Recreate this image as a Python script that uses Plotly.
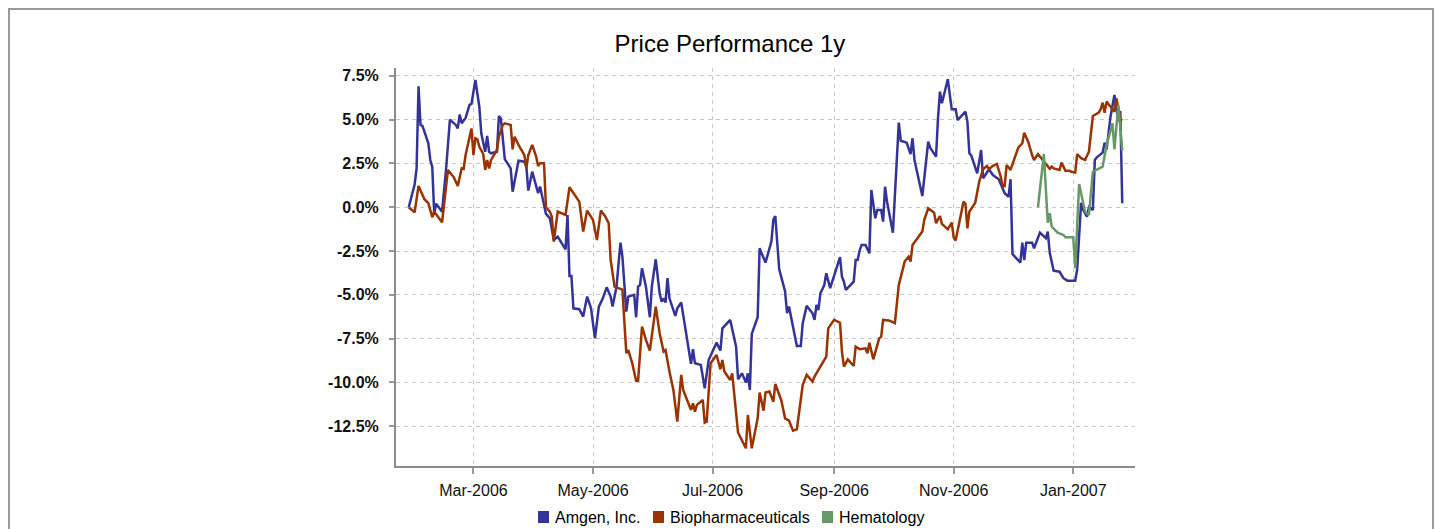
import plotly.graph_objects as go

# ---------------- data (percent change) ----------------
AMGEN_DATES = [
    "2006-01-27","2006-01-30","2006-01-31","2006-02-01","2006-02-02","2006-02-03","2006-02-06","2006-02-07",
    "2006-02-08","2006-02-09","2006-02-10","2006-02-11","2006-02-13","2006-02-15","2006-02-17","2006-02-20",
    "2006-02-21","2006-02-22","2006-02-23","2006-02-25","2006-02-27","2006-02-28","2006-03-02","2006-03-04",
    "2006-03-05","2006-03-07","2006-03-08","2006-03-09","2006-03-10","2006-03-13","2006-03-14","2006-03-15",
    "2006-03-17","2006-03-20","2006-03-21","2006-03-24","2006-03-27","2006-03-28","2006-03-29","2006-03-31",
    "2006-04-03","2006-04-04","2006-04-07","2006-04-09","2006-04-11","2006-04-13","2006-04-15","2006-04-17",
    "2006-04-18","2006-04-19","2006-04-20","2006-04-21","2006-04-24","2006-04-26","2006-04-28","2006-04-30",
    "2006-05-02","2006-05-04","2006-05-06","2006-05-08","2006-05-10","2006-05-11","2006-05-13","2006-05-15",
    "2006-05-16","2006-05-18","2006-05-19","2006-05-22","2006-05-23","2006-05-24","2006-05-25","2006-05-26",
    "2006-05-28","2006-05-30","2006-05-31","2006-06-02","2006-06-04","2006-06-05","2006-06-06","2006-06-07",
    "2006-06-08","2006-06-09","2006-06-12","2006-06-13","2006-06-15","2006-06-17","2006-06-19","2006-06-20",
    "2006-06-21","2006-06-22","2006-06-25","2006-06-27","2006-06-29","2006-07-03","2006-07-05","2006-07-06",
    "2006-07-10","2006-07-13","2006-07-14","2006-07-16","2006-07-18","2006-07-19","2006-07-20","2006-07-21",
    "2006-07-24","2006-07-25","2006-07-28","2006-07-31","2006-08-01","2006-08-02","2006-08-04","2006-08-07",
    "2006-08-08","2006-08-09","2006-08-11","2006-08-13","2006-08-15","2006-08-16","2006-08-18","2006-08-21",
    "2006-08-22","2006-08-23","2006-08-24","2006-08-25","2006-08-27","2006-08-28","2006-08-30","2006-09-01",
    "2006-09-04","2006-09-05","2006-09-06","2006-09-07","2006-09-11","2006-09-12","2006-09-13","2006-09-14",
    "2006-09-15","2006-09-17","2006-09-19","2006-09-20","2006-09-22","2006-09-23","2006-09-25","2006-09-26",
    "2006-09-27","2006-09-28","2006-10-01","2006-10-04","2006-10-05","2006-10-08","2006-10-10","2006-10-11",
    "2006-10-12","2006-10-16","2006-10-19","2006-10-20","2006-10-23","2006-10-24","2006-10-25","2006-10-26",
    "2006-10-29","2006-10-31","2006-11-02","2006-11-03","2006-11-07","2006-11-08","2006-11-09","2006-11-10",
    "2006-11-13","2006-11-15","2006-11-16","2006-11-19","2006-11-21","2006-11-24","2006-11-27","2006-11-29",
    "2006-11-30","2006-12-01","2006-12-05","2006-12-06","2006-12-07","2006-12-08","2006-12-11","2006-12-12",
    "2006-12-15","2006-12-18","2006-12-19","2006-12-20","2006-12-22","2006-12-25","2006-12-27","2006-12-29",
    "2007-01-02","2007-01-03","2007-01-05","2007-01-06","2007-01-08","2007-01-09","2007-01-11","2007-01-12",
    "2007-01-13","2007-01-16","2007-01-17","2007-01-18","2007-01-20","2007-01-22","2007-01-24","2007-01-25",
    "2007-01-26",
]
AMGEN_VALUES = [
    0.0, 1.3, 2.2, 6.9, 4.7, 4.65, 3.65, 2.7,
    2.3, -0.35, 0.2, 0.03, -0.25, 2.1, 5.0, 4.7,
    4.5, 5.3, 4.8, 5.1, 5.85, 5.9, 7.27, 5.74,
    4.22, 3.17, 4.07, 3.17, 3.08, 3.17, 5.2, 5.08,
    2.75, 2.22, 0.89, 2.66, 2.6, 2.32, 0.95, 2.03,
    0.8, 1.18, -0.38, -0.63, -1.87, -1.68, -2.05, -2.4,
    -0.44, -3.92, -3.92, -5.77, -5.82, -6.24, -5.1, -5.77,
    -7.48, -5.67, -5.2, -4.57, -5.1, -5.67, -4.53, -2.02,
    -2.82, -5.96, -5.1, -5.0, -6.28, -4.53, -4.43, -3.48,
    -4.53, -6.28, -4.53, -2.97, -4.91, -5.39, -5.2, -5.44,
    -4.05, -5.2, -6.2, -5.77, -5.44, -6.81, -7.99, -8.94,
    -8.1, -8.9, -9.0, -10.33, -8.72, -7.73, -8.18, -6.91,
    -6.43, -7.96, -9.82, -9.48, -10.01, -9.48, -10.43, -7.23,
    -6.28, -2.34, -3.16, -1.96, -0.72, -0.5, -3.54, -4.81,
    -6.05, -5.67, -6.81, -7.92, -7.92, -6.62, -5.63, -6.05,
    -6.43, -5.58, -5.86, -4.91, -4.44, -3.77, -4.62, -3.96,
    -2.85, -3.96, -4.25, -4.72, -4.25, -3.01, -3.01, -2.48,
    -2.15, -2.15, -2.63, 0.99, -0.63, -0.15, -0.15, -0.82,
    1.18, 0.32, -1.45, 4.83, 3.8, 3.69, 3.04, 3.94,
    2.7, 0.64, 3.74, 3.4, 2.89, 5.08, 6.6, 5.94,
    7.31, 5.59, 5.59, 4.98, 5.46, 4.89, 3.08, 2.95,
    1.94, 3.27, 1.66, 2.17, 1.84, 1.6, 0.8, 0.6,
    1.6, -2.67, -3.16, -2.02, -3.01, -2.02, -2.02, -2.34,
    -1.45, -1.77, -1.39, -2.59, -3.62, -3.68, -4.05, -4.19,
    -4.19, -3.54, 0.26, -0.15, -0.54, 0.0, -0.15, 2.7,
    2.85, 3.12, 3.69, 3.31, 5.17, 6.41, 4.9, 5.5,
    0.23,
]

BIOPHARMA_DATES = [
    "2006-01-27","2006-01-30","2006-02-01","2006-02-04","2006-02-06","2006-02-08","2006-02-09","2006-02-11",
    "2006-02-13","2006-02-16","2006-02-19","2006-02-21","2006-02-23","2006-02-24","2006-02-25","2006-02-28",
    "2006-03-01","2006-03-02","2006-03-03","2006-03-04","2006-03-06","2006-03-07","2006-03-08","2006-03-09",
    "2006-03-10","2006-03-13","2006-03-14","2006-03-16","2006-03-17","2006-03-20","2006-03-21","2006-03-22",
    "2006-03-24","2006-03-27","2006-03-28","2006-03-29","2006-03-31","2006-04-02","2006-04-03","2006-04-04",
    "2006-04-06","2006-04-07","2006-04-09","2006-04-10","2006-04-11","2006-04-13","2006-04-15","2006-04-17",
    "2006-04-19","2006-04-21","2006-04-24","2006-04-26","2006-04-28","2006-05-01","2006-05-03","2006-05-05",
    "2006-05-07","2006-05-09","2006-05-10","2006-05-12","2006-05-15","2006-05-16","2006-05-18","2006-05-19",
    "2006-05-21","2006-05-23","2006-05-24","2006-05-26","2006-05-28","2006-05-30","2006-06-02","2006-06-04",
    "2006-06-06","2006-06-07","2006-06-09","2006-06-11","2006-06-13","2006-06-15","2006-06-16","2006-06-18",
    "2006-06-20","2006-06-21","2006-06-22","2006-06-23","2006-06-26","2006-06-27","2006-06-28","2006-06-30",
    "2006-07-03","2006-07-05","2006-07-06","2006-07-07","2006-07-10","2006-07-11","2006-07-14","2006-07-18",
    "2006-07-19","2006-07-21","2006-07-24","2006-07-25","2006-07-27","2006-07-28","2006-07-30","2006-08-01",
    "2006-08-02","2006-08-05","2006-08-07","2006-08-09","2006-08-11","2006-08-13","2006-08-16","2006-08-18",
    "2006-08-21","2006-08-22","2006-08-24","2006-08-27","2006-08-28","2006-08-29","2006-09-01","2006-09-04",
    "2006-09-05","2006-09-06","2006-09-08","2006-09-11","2006-09-12","2006-09-14","2006-09-17","2006-09-18",
    "2006-09-19","2006-09-21","2006-09-24","2006-09-25","2006-09-26","2006-09-29","2006-10-02","2006-10-04",
    "2006-10-07","2006-10-09","2006-10-10","2006-10-11","2006-10-13","2006-10-16","2006-10-17","2006-10-19",
    "2006-10-22","2006-10-23","2006-10-25","2006-10-26","2006-10-29","2006-10-31","2006-11-01","2006-11-02",
    "2006-11-06","2006-11-07","2006-11-08","2006-11-09","2006-11-12","2006-11-13","2006-11-14","2006-11-16",
    "2006-11-18","2006-11-19","2006-11-21","2006-11-23","2006-11-25","2006-11-26","2006-11-27","2006-11-28",
    "2006-11-30","2006-12-04","2006-12-06","2006-12-07","2006-12-09","2006-12-11","2006-12-12","2006-12-14",
    "2006-12-16","2006-12-19","2006-12-20","2006-12-21","2006-12-22","2006-12-25","2006-12-26","2006-12-28",
    "2006-12-30","2006-12-31","2007-01-02","2007-01-03","2007-01-05","2007-01-07","2007-01-09","2007-01-11",
    "2007-01-14","2007-01-15","2007-01-16","2007-01-17","2007-01-18","2007-01-20","2007-01-22","2007-01-23",
    "2007-01-25","2007-01-26",
]
BIOPHARMA_VALUES = [
    0.0, -0.29, 1.22, 0.46, 0.23, -0.57, -0.25, -0.54,
    -0.86, 2.13, 1.71, 1.22, 2.22, 2.19, 2.98, 4.5,
    2.98, 3.94, 3.88, 3.46, 3.04, 2.13, 2.7, 2.22,
    2.7, 3.27, 4.03, 4.7, 4.79, 4.7, 3.31, 4.03,
    3.56, 2.98, 2.22, 2.98, 3.56, 2.89, 2.36, 2.51,
    2.51, 0.0, -0.25, -0.54, -1.96, -0.25, -0.34, -0.44,
    1.14, 0.8, 0.32, -1.39, -0.19, -0.72, -1.87, -0.19,
    -0.48, -0.91, -3.0, -4.53, -4.68, -4.7, -8.33, -8.15,
    -8.9, -9.9, -9.9, -6.81, -7.57, -8.18, -5.67, -7.19,
    -8.24, -8.15, -9.38, -10.43, -12.24, -9.57, -10.43, -11.0,
    -11.57, -11.19, -11.67, -11.28, -11.0, -12.29, -12.24, -8.9,
    -8.43, -9.25, -8.72, -9.38, -9.86, -9.48, -12.86, -13.76,
    -11.86, -13.76, -12.05, -10.58, -11.61, -10.58, -10.52, -11.1,
    -10.09, -11.0, -12.05, -12.18, -12.75, -12.67, -10.14, -9.57,
    -9.95, -9.67, -9.29, -8.72, -8.53, -6.91, -6.43, -6.59,
    -8.24, -9.1, -8.68, -9.06, -7.96, -8.1, -8.05, -8.33,
    -7.73, -8.68, -7.48, -7.4, -6.43, -6.46, -6.62, -4.43,
    -3.1, -2.82, -3.1, -2.15, -1.87, -1.39, -0.72, -0.06,
    -0.31, -0.91, -0.5, -0.95, -1.26, -0.88, -1.71, -1.9,
    0.32, 0.2, -1.2, -0.25, 0.26, 0.8, 1.46, 2.17,
    2.36, 2.17, 2.36, 2.47, 1.75, 1.18, 1.2, 2.41,
    2.13, 3.42, 3.65, 4.26, 3.74, 2.98, 2.7, 3.04,
    2.74, 2.32, 2.2, 2.32, 2.22, 2.13, 2.55, 2.09,
    2.09, 2.03, 1.98, 3.04, 2.8, 2.7, 3.17, 5.21,
    5.4, 5.6, 5.97, 5.4, 6.03, 5.74, 5.46, 6.22,
    5.02, 4.95,
]

HEMATOLOGY_DATES = [
    "2006-12-14","2006-12-17","2006-12-19","2006-12-20","2006-12-21","2006-12-24","2006-12-27","2006-12-28",
    "2007-01-01","2007-01-02","2007-01-04","2007-01-07","2007-01-09","2007-01-11","2007-01-16","2007-01-18",
    "2007-01-21","2007-01-22","2007-01-24","2007-01-26",
]
HEMATOLOGY_VALUES = [
    0.0, 3.04, -0.88, -0.34, -1.1, -1.45, -1.58, -1.71,
    -1.71, -3.48, 1.33, -0.25, -0.44, 2.03, 2.32, 3.56,
    4.79, 3.31, 5.84, 3.23,
]

SERIES_NAMES = ["Amgen, Inc.", "Biopharmaceuticals", "Hematology"]
SERIES_COLORS = ["#333399", "#993300", "#669966"]
Y_TICKS = [-12.5, -10.0, -7.5, -5.0, -2.5, 0.0, 2.5, 5.0, 7.5]
TITLE = "Price Performance 1y"

# ---------------- figure ----------------
FONT = "Liberation Sans, Arial, Helvetica, sans-serif"
W, H = 1426, 521
ML, MT, PW, PH = 388, 60, 739, 398


def px_x(fx):
    """figure pixel x -> paper x"""
    return (fx - ML) / PW


def px_y(fy):
    """figure pixel y (from top) -> paper y"""
    return (MT + PH - fy) / PH


fig = go.Figure()

series = [
    (AMGEN_DATES, AMGEN_VALUES),
    (BIOPHARMA_DATES, BIOPHARMA_VALUES),
    (HEMATOLOGY_DATES, HEMATOLOGY_VALUES),
]
for (dates, vals), name, color in zip(series, SERIES_NAMES, SERIES_COLORS):
    fig.add_trace(go.Scatter(
        x=dates, y=vals, mode="lines", name=name,
        line=dict(color=color, width=2.5),
        showlegend=False,
        hovertemplate="%{x|%d-%b-%Y}: %{y:.2f}%<extra>" + name + "</extra>",
    ))

# legend: coloured squares + labels (positioned like the original)
LEGEND_SQUARE_X = [530, 645, 814]
LEGEND_Y = 509
shapes = []
annotations = []
for sx, name, color in zip(LEGEND_SQUARE_X, SERIES_NAMES, SERIES_COLORS):
    shapes.append(dict(type="rect", xref="paper", yref="paper",
                       x0=px_x(sx), x1=px_x(sx + 11),
                       y0=px_y(LEGEND_Y + 6), y1=px_y(LEGEND_Y - 6),
                       line=dict(width=0), fillcolor=color))
    annotations.append(dict(xref="paper", yref="paper", x=px_x(sx + 15), y=px_y(LEGEND_Y),
                            xanchor="left", yanchor="middle", showarrow=False, text=name,
                            font=dict(family=FONT, size=16, color="#000000")))

# outer frame
shapes.append(dict(
    type="rect", xref="paper", yref="paper",
    x0=px_x(1), x1=px_x(W - 1), y0=px_y(H + 40), y1=px_y(1),
    line=dict(color="#9a9a9a", width=2), fillcolor="rgba(0,0,0,0)", layer="below",
))

grid = dict(showgrid=True, gridcolor="#c8c8c8", gridwidth=1, griddash="4px,4px")

fig.update_layout(
    width=W, height=H,
    margin=dict(l=ML, r=W - ML - PW, t=MT, b=H - MT - PH, autoexpand=False),
    paper_bgcolor="white", plot_bgcolor="white",
    title=dict(text=TITLE, x=722 / W, xanchor="center", y=1 - 36 / H, yanchor="middle",
               font=dict(family=FONT, size=24, color="#000000")),
    showlegend=False,
    xaxis=dict(
        type="date", range=["2006-01-20 12:00", "2007-02-01 12:00"],
        dtick="M2", tick0="2006-01-01", tickformat="%b-%Y",
        ticks="outside", ticklen=6, tickwidth=1.5, tickcolor="#999999",
        ticklabelstandoff=3,
        showline=True, linecolor="#8c8c8c", linewidth=2,
        tickfont=dict(family=FONT, size=16, color="#111111"),
        zeroline=False, automargin=False, **grid,
    ),
    yaxis=dict(
        range=[-14.77, 7.95], tickmode="array", tickvals=Y_TICKS,
        ticktext=[f"{v:.1f}%" for v in Y_TICKS],
        ticks="outside", ticklen=5, tickwidth=1.5, tickcolor="#999999",
        ticklabelstandoff=7,
        showline=True, linecolor="#8c8c8c", linewidth=2,
        tickfont=dict(family=FONT, size=16, color="#111111", weight="bold"),
        zeroline=False, automargin=False, **grid,
    ),
    shapes=shapes,
    annotations=annotations,
)

fig.write_html("out.html")
